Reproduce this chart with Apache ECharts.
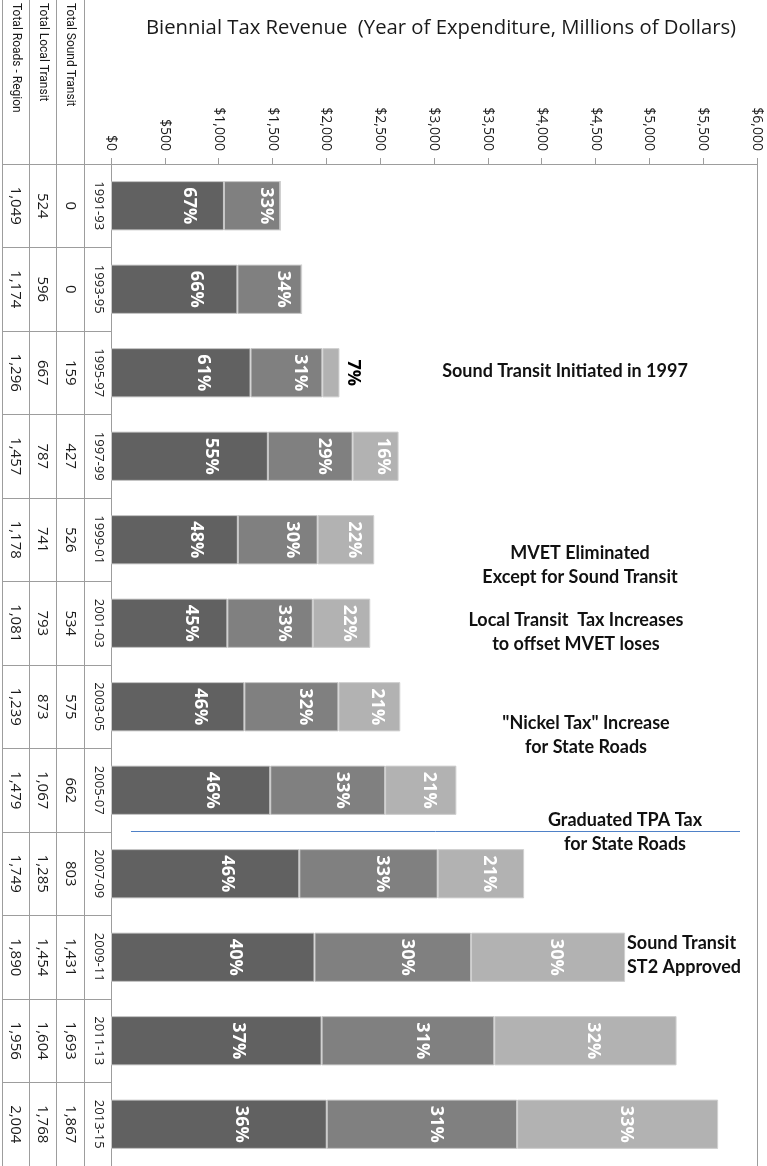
<!DOCTYPE html>
<html>
<head>
	<meta charset="utf-8">
	<script src="https://cdn.jsdelivr.net/npm/echarts/dist/echarts.min.js"></script>
	<style>
		body { margin: 0; background: #fff; }
		#main { width: 767px; height: 1166px; }
	</style>
</head>
<body>
<div id="main"></div>
<script>
	// biennial tax revenue, millions of dollars
	var periods = ['1991-93', '1993-95', '1995-97', '1997-99', '1999-01', '2001-03', '2003-05', '2005-07', '2007-09', '2009-11', '2011-13', '2013-15'];
	var soundTransit = [0, 0, 159, 427, 526, 534, 575, 662, 803, 1431, 1693, 1867];
	var localTransit = [524, 596, 667, 787, 741, 793, 873, 1067, 1285, 1454, 1604, 1768];
	var roadsRegion = [1049, 1174, 1296, 1457, 1178, 1081, 1239, 1479, 1749, 1890, 1956, 2004];
	var tableHeads = ['Total Sound Transit', 'Total Local Transit', 'Total Roads - Region'];

	var totals = periods.map(function (p, i) {
		return soundTransit[i] + localTransit[i] + roadsRegion[i];
	});

	var lineColor = '#9d9d9d';
	var tableFont = 'Open Sans';

	function fmt(v) {
		return v.toLocaleString('en-US');
	}
	function pct(p) {
		if (!p.value) return '';
		return Math.round(p.value / totals[p.dataIndex] * 100) + '%';
	}

	// table columns are drawn as extra category axes left of the plot
	function tableAxis(offset, tickLen, values, fontSize) {
		return {
			type: 'category',
			data: periods,
			inverse: true,
			position: 'left',
			offset: offset,
			axisLine: { show: true, lineStyle: { color: lineColor } },
			axisTick: { show: tickLen > 0, interval: 0, length: tickLen, lineStyle: { color: lineColor } },
			axisLabel: {
				show: !!values,
				interval: 0,
				rotate: -90,
				margin: 6,
				color: '#1a1a1a',
				fontFamily: tableFont,
				fontSize: fontSize,
				formatter: function (v, i) { return values ? values[i] : ''; }
			},
			splitLine: { show: false }
		};
	}

	// offset [0, -d] pushes the rotated text d px to the right
	function barLabel(shift) {
		return {
			show: true,
			position: 'inside',
			rotate: -90,
			offset: [0, -shift],
			color: '#fff',
			fontFamily: 'Open Sans',
			fontWeight: 'bold',
			fontSize: 18,
			formatter: pct
		};
	}

	var stData = soundTransit.map(function (v, i) {
		if (v > 0 && v / totals[i] < 0.1) {
			return { value: v, label: { position: 'right', color: '#000', align: 'center', verticalAlign: 'middle', distance: 14, offset: [0, 0] } };
		}
		return v;
	});

	var option = {
		animation: false,
		title: {
			text: 'Biennial Tax Revenue  (Year of Expenditure, Millions of Dollars)',
			left: 141,
			top: 13,
			textStyle: { fontFamily: 'Open Sans', fontSize: 20.3, fontWeight: 'normal', color: '#1a1a1a' }
		},
		grid: { left: 111, right: 10, top: 164, bottom: 0, containLabel: false, outerBoundsMode: 'none' },
		xAxis: {
			type: 'value',
			position: 'top',
			min: 0,
			max: 6000,
			interval: 500,
			axisLine: { show: true, lineStyle: { color: lineColor } },
			axisTick: { show: true, length: 6, lineStyle: { color: lineColor } },
			axisLabel: {
				rotate: 90,
				margin: 13,
				color: '#1a1a1a',
				fontFamily: tableFont,
				fontSize: 14,
				formatter: function (v) { return '$' + fmt(v); }
			},
			splitLine: { show: false }
		},
		yAxis: [
			tableAxis(0, 27, periods, 13),
			tableAxis(27, 28, soundTransit.map(fmt), 15),
			tableAxis(55, 27, localTransit.map(fmt), 15),
			tableAxis(82, 27, roadsRegion.map(fmt), 15),
			tableAxis(109, 0, null, 13),
			{
				type: 'category',
				data: periods,
				inverse: true,
				position: 'right',
				axisLine: { show: true, lineStyle: { color: lineColor } },
				axisTick: { show: false },
				axisLabel: { show: false }
			}
		],
		series: [
			{
				name: 'Total Roads - Region',
				type: 'bar',
				stack: 'total',
				barCategoryGap: '41%',
				data: roadsRegion,
				itemStyle: { color: '#616161', borderColor: '#c8c8c8', borderWidth: 1 },
				label: barLabel(22)
			},
			{
				name: 'Total Local Transit',
				type: 'bar',
				stack: 'total',
				data: localTransit,
				itemStyle: { color: '#808080', borderColor: '#c8c8c8', borderWidth: 1 },
				label: barLabel(14)
			},
			{
				name: 'Total Sound Transit',
				type: 'bar',
				stack: 'total',
				data: stData,
				itemStyle: { color: '#b2b2b2', borderColor: '#d0d0d0', borderWidth: 1 },
				label: barLabel(8)
			}
		]
	};

	var myChart = echarts.init(document.getElementById('main'));
	myChart.setOption(option, true);

	// table header, column rules above the axis, and the notes on the right
	var noteFont = 'bold 18px Lato';
	function note(text, x, y, align) {
		return {
			type: 'text',
			x: x,
			y: y,
			style: {
				text: text,
				font: noteFont,
				fill: '#111',
				align: align || 'center',
				textAlign: align || 'center',
				verticalAlign: 'middle',
				textVerticalAlign: 'middle',
				lineHeight: 24
			}
		};
	}
	function headText(text, x) {
		return {
			type: 'text',
			x: x,
			y: 3,
			rotation: -Math.PI / 2,
			style: {
				text: text,
				font: '12px Roboto',
				fill: '#1a1a1a',
				align: 'left',
				textAlign: 'left',
				verticalAlign: 'middle',
				textVerticalAlign: 'middle'
			}
		};
	}
	function vline(x) {
		return { type: 'line', shape: { x1: x, y1: 0, x2: x, y2: 164 }, style: { stroke: lineColor, lineWidth: 1 } };
	}

	myChart.setOption({
		graphic: [
			vline(2.5), vline(29.5), vline(56.5), vline(84.5),
			headText(tableHeads[0], 70),
			headText(tableHeads[1], 43),
			headText(tableHeads[2], 16),
			{ type: 'line', shape: { x1: 131, y1: 831.5, x2: 740, y2: 831.5 }, style: { stroke: '#4f81c7', lineWidth: 1 } },
			note('Sound Transit Initiated in 1997', 565, 371),
			note('MVET Eliminated\nExcept for Sound Transit', 580, 565),
			note('Local Transit  Tax Increases\nto offset MVET loses', 576, 632),
			note('"Nickel Tax" Increase\nfor State Roads', 586, 735),
			note('Graduated TPA Tax\nfor State Roads', 625, 832),
			note('Sound Transit\nST2 Approved', 627, 955, 'left')
		]
	});
</script>
</body>
</html>
